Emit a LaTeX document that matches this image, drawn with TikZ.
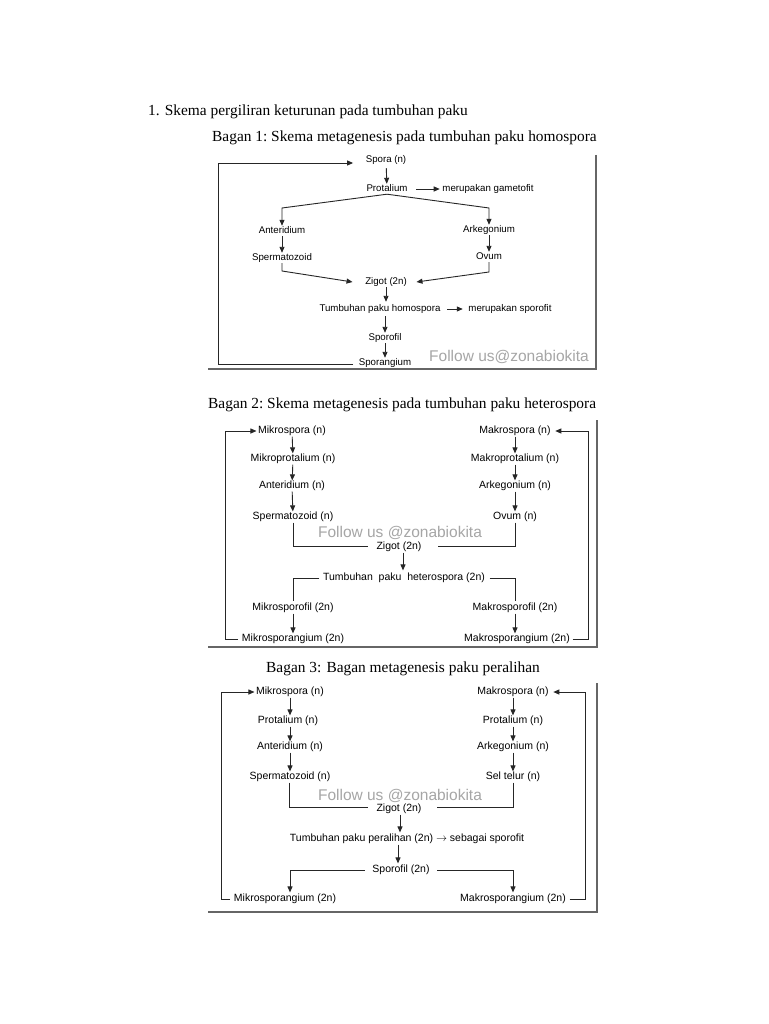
\documentclass[tikz,border=0pt]{standalone}
\usepackage{fontspec}
\setmainfont{Liberation Serif}
\newfontfamily\diagfont{Liberation Sans}
\usetikzlibrary{arrows.meta,calc}
\begin{document}
\begin{tikzpicture}[x=1pt,y=-1pt,
  lbl/.style={font=\diagfont\fontsize{10.5}{12}\selectfont, inner sep=0.5pt, text height=7.6pt, text depth=2.2pt},
  lblsmall/.style={font=\diagfont\fontsize{9.7}{11}\selectfont, inner sep=0.5pt, text height=7pt, text depth=2pt},
  ttl/.style={font=\fontsize{15.4}{18}\selectfont, inner sep=0pt, anchor=base west},
  wm/.style={font=\diagfont\fontsize{15.5}{18}\selectfont, text=gray!70, inner sep=0pt},
  ln/.style={draw=black!85, line width=0.9pt},
  arr/.style={ln, -{Triangle[length=6pt,width=5pt]}},
  frm/.style={draw=black!60, line width=1.6pt},
]
\useasboundingbox[fill=white] (0,0) rectangle (768,1024);

% ---------- titles ----------
\node[ttl] (t0) at (148,115.5) {1. Skema pergiliran keturunan pada tumbuhan paku};
\node[ttl] (t1) at (212,141.5) {Bagan 1:\ Skema metagenesis pada tumbuhan paku homospora};
\node[ttl] (t2) at (208,408) {Bagan 2:\ Skema metagenesis pada tumbuhan paku heterospora};
\node[ttl] (t3) at (266,672) {Bagan 3: Bagan metagenesis paku peralihan};

% ---------- Bagan 1 ----------
\draw[frm] (596,155) -- (596,369) -- (208,369);
\node[wm] (wm1) at (509,357) {Follow us@zonabiokita};
\node[lblsmall] (spora) at (386,160) {Spora (n)};
\node[lblsmall] (prot) at (387,189) {Protalium};
\node[lblsmall] (gam) at (488,189) {merupakan gametofit};
\node[lblsmall] (anter) at (282,231) {Anteridium};
\node[lblsmall] (sperm) at (282,258) {Spermatozoid};
\node[lblsmall] (arkeg) at (489,230) {Arkegonium};
\node[lblsmall] (ovum) at (489,257) {Ovum};
\node[lblsmall] (zigot) at (386,282) {Zigot (2n)};
\node[lblsmall] (tumb) at (380,309) {Tumbuhan paku homospora};
\node[lblsmall] (sporo) at (510,309) {merupakan sporofit};
\node[lblsmall] (sporofil) at (385,338) {Sporofil};
\node[lblsmall] (sporang) at (385,363) {Sporangium};

\coordinate (lb1) at (218,364);
\coordinate (lt1) at (218,163);
\coordinate (pl) at (282,208);
\coordinate (pr) at (489,208);
\coordinate (sl) at (282,271);
\coordinate (orr) at (489,272);
\draw[ln] ($(sporang.west)+(-5,1)$) -- (lb1);
\draw[arr] (lb1) -- (lt1) -- ($(spora.west)+(-12,3)$);
\draw[arr, shorten <=3pt] (spora) -- (prot);
\draw[arr] ($(prot.east)+(8,0)$) -- ($(gam.west)+(-2,0)$);
\draw[arr] (prot.south) -- (pl) -- (anter.north);
\draw[arr] (prot.south) -- (pr) -- (arkeg.north);
\draw[arr] (anter) -- (sperm);
\draw[arr] (arkeg) -- (ovum);
\draw[arr] (sperm.south) -- (sl) -- ($(zigot.west)+(-12,0)$);
\draw[arr] (ovum.south) -- (orr) -- ($(zigot.east)+(9,0)$);
\draw[arr, shorten >=2pt] (zigot) -- (zigot |- tumb.north);
\draw[arr] ($(tumb.east)+(6,0)$) -- ($(sporo.west)+(-5,0)$);
\draw[arr] ($(zigot.south |- tumb.center)+(-1,7)$) -- (sporofil.north);
\draw[arr] (sporofil) -- (sporang);

% ---------- Bagan 2 ----------
\draw[frm] (597,420) -- (597,647) -- (208,647);
\node[wm] (wm2) at (400,533) {Follow us @zonabiokita};
\node[lbl] (mis) at (292,431) {Mikrospora (n)};
\node[lbl] (mip) at (293,459) {Mikroprotalium (n)};
\node[lbl] (ant2) at (292,486) {Anteridium (n)};
\node[lbl] (spe2) at (293,517) {Spermatozoid (n)};
\node[lbl] (mas) at (515,431) {Makrospora (n)};
\node[lbl] (map) at (515,459) {Makroprotalium (n)};
\node[lbl] (ark2) at (515,486) {Arkegonium (n)};
\node[lbl] (ovu2) at (515,517) {Ovum (n)};
\node[lbl] (zig2) at (399,547) {Zigot (2n)};
\node[lbl] (tum2) at (404,578) {Tumbuhan\ \ paku\ \ heterospora (2n)};
\node[lbl] (misf) at (293,608) {Mikrosporofil (2n)};
\node[lbl] (mism) at (293,639) {Mikrosporangium (2n)};
\node[lbl] (masf) at (515,608) {Makrosporofil (2n)};
\node[lbl] (masm) at (517,639) {Makrosporangium (2n)};

\coordinate (l2b) at (225,639);
\coordinate (l2t) at (225,431);
\coordinate (r2b) at (588,639);
\coordinate (r2t) at (588,431);
\coordinate (s2) at (293,546);
\coordinate (o2) at (515,546);
\coordinate (tl2) at (293,578);
\coordinate (tr2) at (515,578);
\draw[arr] ($(mism.west)+(-3,0)$) -- (l2b) -- (l2t) -- ($(mis.west)+(-1,0)$);
\draw[arr] ($(masm.east)+(2,0)$) -- (r2b) -- (r2t) -- ($(mas.east)+(4,0)$);
\draw[arr] (mis) -- (mip);
\draw[arr] (mip) -- (ant2);
\draw[arr] (ant2) -- (spe2);
\draw[arr] (mas) -- (map);
\draw[arr] (map) -- (ark2);
\draw[arr] (ark2) -- (ovu2);
\draw[ln] (spe2.south) -- (s2) -- ($(zig2.west)+(-8,-1)$);
\draw[ln] (ovu2.south) -- (o2) -- ($(zig2.east)+(16,-1)$);
\draw[arr, shorten >=2pt] ($(zig2.south)+(4,0)$) -- ($(zig2.south |- tum2.north)+(4,0)$);
\draw[ln] ($(tum2.west)+(-3,0)$) -- (tl2) -- ($(misf.north)+(0,-1)$);
\draw[ln] ($(tum2.east)+(4,0)$) -- (tr2) -- ($(masf.north)+(0,-1)$);
\draw[arr] (misf) -- (misf |- mism.north);
\draw[arr] (masf) -- (masf |- masm.north);

% ---------- Bagan 3 ----------
\draw[frm] (597,683) -- (597,912) -- (208,912);
\node[wm] (wm3) at (400,796) {Follow us @zonabiokita};
\node[lbl] (mis3) at (290,692) {Mikrospora (n)};
\node[lbl] (pro3a) at (288,721) {Protalium (n)};
\node[lbl] (ant3) at (290,747) {Anteridium (n)};
\node[lbl] (spe3) at (290,777) {Spermatozoid (n)};
\node[lbl] (mas3) at (513,692) {Makrospora (n)};
\node[lbl] (pro3b) at (513,721) {Protalium (n)};
\node[lbl] (ark3) at (513,747) {Arkegonium (n)};
\node[lbl] (sel3) at (513,777) {Sel telur (n)};
\node[lbl] (zig3) at (399,809) {Zigot (2n)};
\node[lbl] (tum3) at (407,839) {Tumbuhan paku peralihan (2n) $\rightarrow$ sebagai sporofit};
\node[lbl] (spf3) at (401,870) {Sporofil (2n)};
\node[lbl] (mism3) at (285,899) {Mikrosporangium (2n)};
\node[lbl] (masm3) at (513,899) {Makrosporangium (2n)};

\coordinate (l3b) at (221,899);
\coordinate (l3t) at (221,692);
\coordinate (r3b) at (585,899);
\coordinate (r3t) at (585,692);
\coordinate (s3) at (289,807);
\coordinate (o3) at (513,807);
\coordinate (fl3) at (290,870);
\coordinate (fr3) at (513,870);
\draw[arr] ($(mism3.west)+(-3,0)$) -- (l3b) -- (l3t) -- ($(mis3.west)+(-1,0)$);
\draw[arr] ($(masm3.east)+(3,0)$) -- (r3b) -- (r3t) -- ($(mas3.east)+(4,0)$);
\draw[arr] (mis3) -- (mis3 |- pro3a.north);
\draw[arr] (mis3 |- pro3a.south) -- (mis3 |- ant3.north);
\draw[arr] (mis3 |- ant3.south) -- (mis3 |- spe3.north);
\draw[arr] (mas3) -- (pro3b);
\draw[arr] (pro3b) -- (ark3);
\draw[arr] (ark3) -- (sel3);
\draw[ln] ($(spe3.south)+(-1,0)$) -- (s3) -- ($(zig3.west)+(-8,-2)$);
\draw[ln] (sel3.south) -- (o3) -- ($(zig3.east)+(15,-2)$);
\draw[arr, shorten >=1pt] ($(zig3.south)+(1,0)$) -- ($(zig3.south |- tum3.north)+(1,0)$);
\draw[arr, shorten >=1pt] ($(spf3.north |- tum3.south)+(-3,0)$) -- ($(spf3.north)+(-3,0)$);
\draw[arr] ($(spf3.west)+(-7,0)$) -- (fl3) -- ($(mism3.north)+(5,-1)$);
\draw[arr] ($(spf3.east)+(7,0)$) -- (fr3) -- ($(masm3.north)+(0,-1)$);
\end{tikzpicture}
\end{document}
